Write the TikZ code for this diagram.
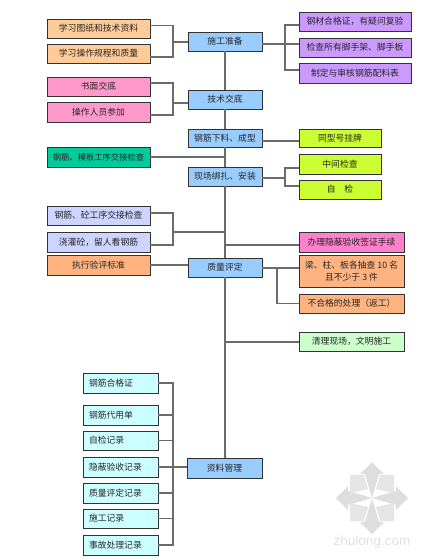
\documentclass[tikz,border=0pt]{standalone}
\usepackage{fontspec}
\setmainfont{Noto Sans CJK SC}
\newfontfamily\wmfont{Liberation Sans}
\definecolor{cOrange}{HTML}{FFCC99}
\definecolor{cPink}{HTML}{FF99CC}
\definecolor{cTeal}{HTML}{00CC99}
\definecolor{cBlue}{HTML}{99CCFF}
\definecolor{cPurple}{HTML}{CC99FF}
\definecolor{cYellow}{HTML}{CCFF33}
\definecolor{cPeri}{HTML}{CCD4FF}
\definecolor{cPeach}{HTML}{FFB380}
\definecolor{cHot}{HTML}{FF80CC}
\definecolor{cCyan}{HTML}{CCFFFF}
\definecolor{cMint}{HTML}{CCFFCC}
\tikzset{
  bx/.style={draw=black!80,line width=0.9pt,inner sep=0pt,outer sep=0pt,font=\fontsize{8.8}{12}\selectfont,text=black!85,align=center},
  lbx/.style={bx,align=left,inner xsep=6pt},
  conn/.style={draw=black!58,line width=1.1pt},
  wmk/.style={fill=black!13,draw=none},
  wms/.style={fill=black!10,draw=none}
}
% name, style, colour, x0, y0, x1, y1, text
\newcommand\bxn[8]{%
  \pgfmathsetmacro\bw{#6-#4}\pgfmathsetmacro\bh{#7-#5}%
  \node[#2,fill=#3,minimum width=\bw pt,minimum height=\bh pt] (#1) at ({(#4+#6)/2},{(#5+#7)/2}) {#8};}
\begin{document}
\begin{tikzpicture}[x=1pt,y=-1pt]
\useasboundingbox (0,0) rectangle (423,560);
% watermark
\begin{scope}[shift={(372,498)}]
  \path[wmk] (0,-36)--(12,-24)--(7,-24)--(0,0)--(-7,-24)--(-12,-24)--cycle;
  \path[wmk] (0,36)--(12,24)--(7,24)--(0,0)--(-7,24)--(-12,24)--cycle;
  \path[wmk] (-36,0)--(-24,-12)--(-24,-7)--(0,0)--(-24,7)--(-24,12)--cycle;
  \path[wmk] (36,0)--(24,-12)--(24,-7)--(0,0)--(24,7)--(24,12)--cycle;
  \path[wms] (-22,-23)--(-8,-23)--(-4,-9)--(-22,-5)--cycle;
  \path[wms] (22,-23)--(8,-23)--(4,-9)--(22,-5)--cycle;
  \path[wms] (-22,23)--(-8,23)--(-4,9)--(-22,5)--cycle;
  \path[wms] (22,23)--(8,23)--(4,9)--(22,5)--cycle;
\end{scope}
\node[text=black!12,font=\wmfont\fontsize{13.5}{14}\selectfont,inner sep=0pt] (wm) at (372,542) {zhulong.com};
% free-end junctions
\coordinate (busA) at (173,42);
\coordinate (busB) at (173,103);
\coordinate (busC) at (173,232);
\coordinate (busD) at (173,467);
\coordinate (busE) at (285,44);
\coordinate (busF) at (285,178);
\coordinate (busG) at (277,268);
\coordinate (trunkC) at (225,232);
\coordinate (trunkH) at (225,245);
\coordinate (trunkQ) at (225,342);
% centre column
\bxn{sg}{bx}{cBlue}{188}{32}{262}{51}{施工准备}
\bxn{js}{bx}{cBlue}{188}{90}{262}{109}{技术交底}
\bxn{xl}{bx}{cBlue}{188}{129}{262}{147}{钢筋下料、成型}
\bxn{xc}{bx}{cBlue}{188}{167}{262}{186}{现场绑扎、安装}
\bxn{zl}{bx}{cBlue}{188}{258}{262}{277}{质量评定}
\bxn{zg}{bx}{cBlue}{187}{458}{262}{478}{资料管理}
% left
\bxn{a1}{bx}{cOrange}{47}{19}{150}{38}{学习图纸和技术资料}
\bxn{a2}{bx}{cOrange}{47}{44}{150}{63}{学习操作规程和质量}
\bxn{b1}{bx}{cPink}{47}{77}{150}{96}{书面交底}
\bxn{b2}{bx}{cPink}{47}{102}{150}{122}{操作人员参加}
\bxn{g1}{bx}{cTeal}{47}{147}{150}{167}{\fontsize{8.3}{12}\selectfont 钢筋、模板工序交接检查}
\bxn{c1}{bx}{cPeri}{47}{206}{150}{225}{钢筋、砼工序交接检查}
\bxn{c2}{bx}{cPeri}{47}{232}{150}{252}{浇灌砼，留人看钢筋}
\bxn{c3}{bx}{cPeach}{47}{255}{150}{275}{执行验评标准}
% right
\bxn{p1}{bx}{cPurple}{299}{12}{411}{31}{钢材合格证，有疑问复验}
\bxn{p2}{bx}{cPurple}{299}{38}{411}{57}{检查所有脚手架、脚手板}
\bxn{p3}{bx}{cPurple}{299}{63}{411}{83}{制定与审核钢筋配料表}
\bxn{y1}{bx}{cYellow}{299}{129}{381}{147}{同型号挂牌}
\bxn{y2}{bx}{cYellow}{299}{154}{381}{174}{中间检查}
\bxn{y3}{bx}{cYellow}{299}{180}{381}{199}{自\quad 检}
\bxn{h1}{bx}{cHot}{299}{232}{404}{252}{办理隐蔽验收签证手续}
\bxn{q1}{bx}{cPeach}{299}{255}{404}{287}{梁、柱、板各抽查 10 名\\且不少于 3 件}
\bxn{q2}{bx}{cPeach}{299}{294}{404}{313}{不合格的处理（返工）}
\bxn{m1}{bx}{cMint}{299}{332}{404}{351}{清理现场，文明施工}
% bottom left
\bxn{d1}{lbx}{cCyan}{83}{373}{158}{393}{\makebox[63pt][l]{钢筋合格证}}
\bxn{d2}{lbx}{cCyan}{83}{405}{158}{425}{\makebox[63pt][l]{钢筋代用单}}
\bxn{d3}{lbx}{cCyan}{83}{431}{158}{450}{\makebox[63pt][l]{自检记录}}
\bxn{d4}{lbx}{cCyan}{83}{457}{158}{477}{\makebox[63pt][l]{隐蔽验收记录}}
\bxn{d5}{lbx}{cCyan}{83}{483}{158}{503}{\makebox[63pt][l]{质量评定记录}}
\bxn{d6}{lbx}{cCyan}{83}{509}{158}{528}{\makebox[63pt][l]{施工记录}}
\bxn{d7}{lbx}{cCyan}{83}{535}{158}{555}{\makebox[63pt][l]{事故处理记录}}
% connectors
\draw[conn] (sg) -- (js);
\draw[conn] (js) -- (xl);
\draw[conn] (xl) -- (xc);
\draw[conn] (xc) -- (zl);
\draw[conn] (zl.south) -- (zl.south |- zg.north);
\draw[conn] ([yshift=3pt]a1.east) -| (busA) |- ([yshift=-3.5pt]a2.east);
\draw[conn] (busA) -- (busA -| sg.west);
\draw[conn] ([yshift=3.5pt]b1.east) -| (busB) |- ([yshift=-3pt]b2.east);
\draw[conn] (busB) -- (busB -| js.west);
\draw[conn] (g1.east) -- (g1.east -| xc.north);
\draw[conn] ([yshift=2.5pt]c1.east) -| (busC) |- ([yshift=-3pt]c2.east);
\draw[conn] (busC) -- (trunkC);
\draw[conn] (c3.east) -- (c3.east -| zl.west);
\draw[conn] (busE -| sg.east) -- (busE);
\draw[conn] ([yshift=-3.5pt]p1.west) -| (busE);
\draw[conn] (busE) |- ([yshift=3pt]p3.west);
\draw[conn] (busE) -- ([yshift=3.5pt]p2.west);
\draw[conn] ([yshift=-3pt]xl.east) -- ([yshift=-3pt]y1.west);
\draw[conn] (busF -| xc.east) -- (busF);
\draw[conn] ([yshift=-4pt]y2.west) -| (busF);
\draw[conn] (busF) |- ([yshift=3.5pt]y3.west);
\draw[conn] (trunkH) -- ([yshift=-3pt]h1.west);
\draw[conn] (busG -| zl.east) -- (busG -| q1.west);
\draw[conn] (busG) |- (q2.west);
\draw[conn] (trunkQ) -- (trunkQ -| m1.west);
\draw[conn] (d1.east) -| (busD);
\draw[conn] (busD) |- (d7.east);
\draw[conn] (d2.east) -- (d2.east -| busD);
\draw[conn] (d3.east) -- (d3.east -| busD);
\draw[conn] (d4.east) -- (zg.west |- d4.east);
\draw[conn] (d5.east) -- (d5.east -| busD);
\draw[conn] (d6.east) -- (d6.east -| busD);
\end{tikzpicture}
\end{document}
